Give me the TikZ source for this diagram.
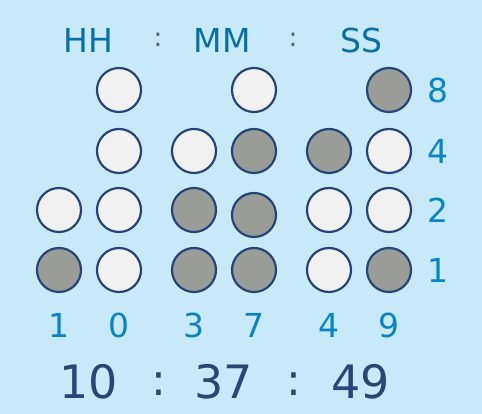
\documentclass[tikz,border=0pt]{standalone}
\usepackage{fontspec}
\setmainfont{DejaVu Sans}
\usepackage{tikz}
\usetikzlibrary{calc}

\definecolor{bg}{HTML}{C8E9FA}
\definecolor{bitline}{HTML}{26437A}
\definecolor{biton}{HTML}{9A9C98}
\definecolor{bitoff}{HTML}{F1F1F1}
\definecolor{headtext}{HTML}{0A6FA8}
\definecolor{weighttext}{HTML}{0B84C4}
\definecolor{timetext}{HTML}{2A4676}
\definecolor{sepgray}{HTML}{5E5E5E}

\tikzset{
	bit/.style={circle,draw=bitline,line width=2.2pt,minimum size=44pt,inner sep=0pt},
	on/.style={bit,fill=biton},
	off/.style={bit,fill=bitoff},
	head/.style={text=headtext,font=\fontsize{33}{38}\selectfont,inner sep=0pt},
	weight/.style={text=weighttext,font=\fontsize{33}{38}\selectfont,inner sep=0pt},
	sep/.style={text=sepgray,font=\fontsize{26}{30}\selectfont,inner sep=0pt},
	bigtime/.style={text=timetext,font=\fontsize{46}{52}\selectfont,inner sep=0pt}
}

\begin{document}
\begin{tikzpicture}[x=1pt,y=1pt]
	\fill[bg] (0,0) rectangle (482,414);
	\useasboundingbox (0,0) rectangle (482,414);
	% header
	\node[head] (hh) at (88,374) {HH};
	\node[sep] (c1) at (158,374) {:};
	\node[head] (mm) at (222,374) {MM};
	\node[sep] (c2) at (293,374) {:};
	\node[head] (ss) at (361,374) {SS};
	% bits, one column per digit
	\foreach \x/\y/\st/\nm in {59/204/off/ha2,59/144/on/ha1,
		119/324/off/hb8,119/263/off/hb4,119/204/off/hb2,119/144/off/hb1,
		194/263/off/ma4,194/204/on/ma2,194/144/on/ma1,
		254/324/off/mb8,254/263/on/mb4,254/199/on/mb2,254/144/on/mb1,
		329/263/on/sa4,329/204/off/sa2,329/144/off/sa1,
		389/324/on/sb8,389/263/off/sb4,389/204/off/sb2,389/144/on/sb1}
		{\node[\st] (\nm) at (\x,\y) {};};
	% weights
	\foreach \w/\y in {8/324,4/263,2/204,1/144}
		{\node[weight] (w\w) at (438,\y) {\w};};
	% digits
	\foreach \d/\x/\nm in {1/59/ha,0/119/hb,3/194/ma,7/254/mb,4/329/sa,9/389/sb}
		{\node[weight] (d\nm) at (\x,89) {\d};};
	% time
	\node[bigtime] (th) at (89,32) {10};
	\node[bigtime,font=\fontsize{44}{50}\selectfont] (t1) at (159,30) {:};
	\node[bigtime] (tm) at (224,32) {37};
	\node[bigtime,font=\fontsize{44}{50}\selectfont] (t2) at (294,30) {:};
	\node[bigtime] (ts) at (361,32) {49};
\end{tikzpicture}
\end{document}
